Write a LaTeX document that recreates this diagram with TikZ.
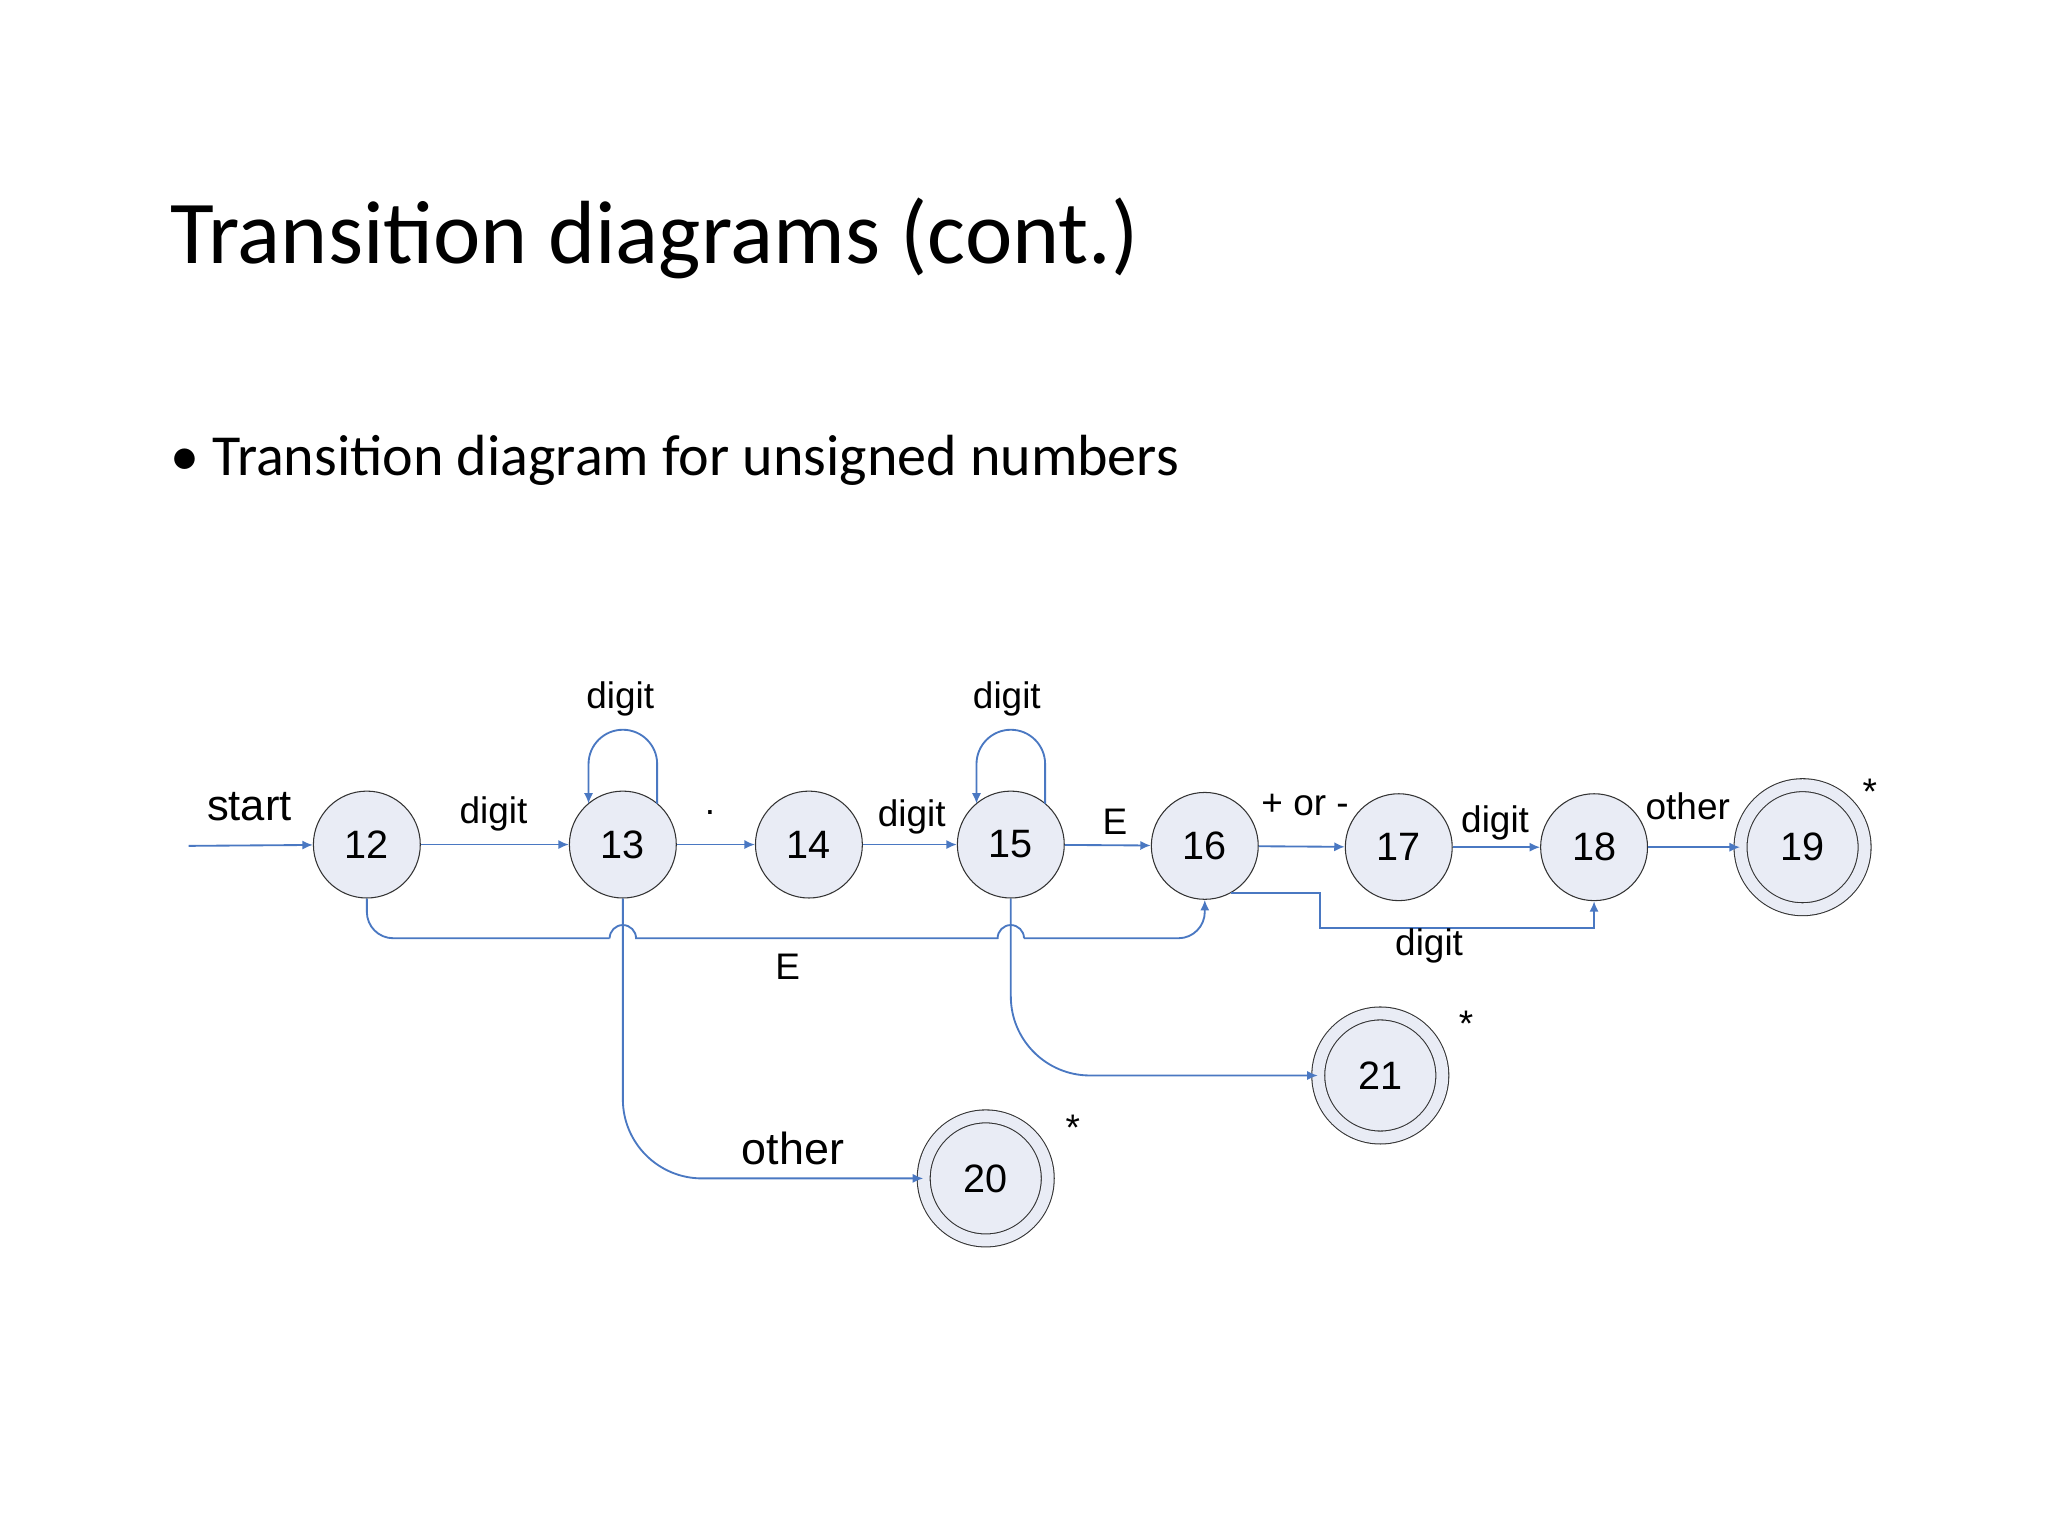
\documentclass[tikz,border=0pt]{standalone}
\usepackage{fontspec}
\setmainfont{Carlito}
\newfontfamily\arialf{Liberation Sans}
\usetikzlibrary{arrows.meta,calc}
\definecolor{edge}{HTML}{4A78C2}
\definecolor{sfill}{HTML}{E9ECF5}
\begin{document}
\begin{tikzpicture}[x=0.5pt,y=-0.5pt,
  st/.style={circle,draw=black!80,fill=sfill,minimum size=40.5pt,inner sep=0pt,font=\arialf\fontsize{15}{15}\selectfont},
  acc/.style={st,minimum size=47pt,double=sfill,double distance=4.5pt},
  ln/.style={draw=edge,line width=0.7pt},
  tr/.style={ln,-{Latex[length=4pt,width=3.5pt]}},
  lb/.style={font=\arialf\fontsize{14}{14}\selectfont}]
\useasboundingbox (0,0) rectangle (1552,1164);
\node[anchor=base west,font=\fontsize{34}{34}\selectfont] (title) at (122,200) {Transition diagrams (cont.)};
\node[anchor=base west,font=\fontsize{22}{22}\selectfont] (bul) at (122,360) {\textbullet\ Transition diagram for unsigned numbers};

\node[st] (n12) at (278,640) {12};
\node[st] (n13) at (472,640) {13};
\node[st] (n14) at (613,640) {14};
\node[st] (n15) at (766,640) {15};
\node[st] (n16) at (913,641) {16};
\node[st] (n17) at (1060,642) {17};
\node[st] (n18) at (1208,642) {18};
\node[acc] (n19) at (1366,642) {19};
\node[acc] (n20) at (747,893) {20};
\node[acc] (n21) at (1046,815) {21};

\coordinate (s0) at (143,641);
\draw[tr] (s0) -- (n12);
\draw[tr] (n12) -- (n13);
\draw[tr] (n13) -- (n14);
\draw[tr] (n14) -- (n15);
\draw[tr] (n15) -- (n16);
\draw[tr] (n16) -- (n17);
\draw[tr] (n17) -- (n18);
\draw[tr] (n18) -- (n19);

\draw[tr] ($(n13.center)+(26,-31)$) -- ++(0,-30) arc (0:-180:26) -- ($(n13.center)+(-26,-31)$);
\draw[tr] ($(n15.center)+(26,-31)$) -- ++(0,-30) arc (0:-180:26) -- ($(n15.center)+(-26,-31)$);

\draw[ln,rounded corners=10pt] (n12.south) |- (462,711);
\draw[ln] (462,711) arc (-180:0:10) -- (756,711) arc (-180:0:10);
\draw[tr,rounded corners=10pt] (776,711) -| (n16.south);
\draw[tr] ($(n16.center)+(20,36)$) -- (1000,677) -- (1000,703) -| (n18.south);
\draw[tr,rounded corners=30pt] (n13.south) |- (n20.west);
\draw[tr,rounded corners=30pt] (n15.south) |- (n21.west);

\node[lb,font=\arialf\fontsize{16.5}{16.5}\selectfont] (lstart) at (189,611) {start};
\node[lb] (l1) at (374,617) {digit};
\node[lb] (l2) at (538,616) {.};
\node[lb] (l3) at (691,619) {digit};
\node[lb] (l4) at (845,623) {E};
\node[lb] (l5) at (989,610) {+ or -};
\node[lb] (l6) at (1133,624) {digit};
\node[lb] (l7) at (1279,611) {other};
\node[lb] (l8) at (470,530) {digit};
\node[lb] (l9) at (763,530) {digit};
\node[lb] (l10) at (597,733) {E};
\node[lb] (l11) at (1083,717) {digit};
\node[lb,font=\arialf\fontsize{17}{17}\selectfont] (l12) at (601,870) {other};
\node[lb] (a1) at (1417,600) {*};
\node[lb] (a2) at (1111,776) {*};
\node[lb] (a3) at (813,855) {*};
\end{tikzpicture}
\end{document}
